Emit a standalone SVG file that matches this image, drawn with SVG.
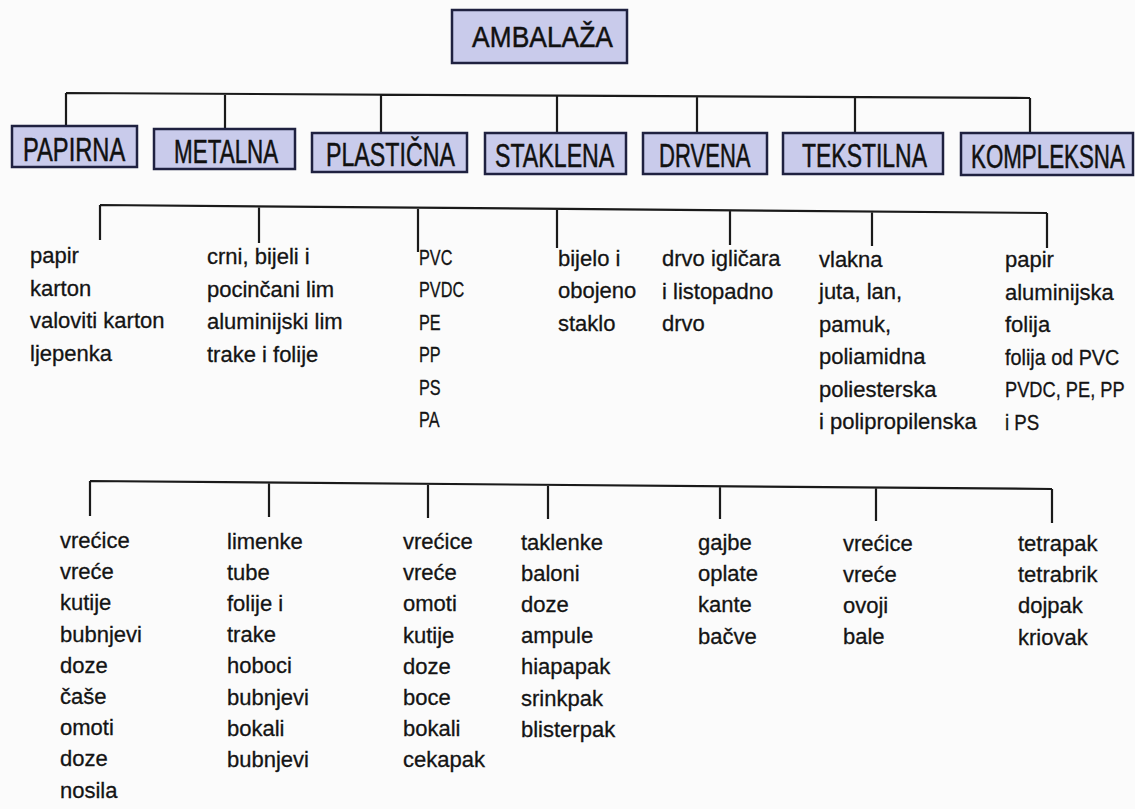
<svg xmlns="http://www.w3.org/2000/svg" width="1135" height="809" viewBox="0 0 1135 809">
<style>
.bg{fill:#fbfbfb}
.box{fill:#c9cbeb;stroke:#1f2140;stroke-width:2.5}
.hd{font-family:"Liberation Sans",Arial,sans-serif;font-size:33px;fill:#111;stroke:#111;stroke-width:0.5}
.ls{font-family:"Liberation Sans",Arial,sans-serif;font-size:22px;fill:#141414;stroke:#141414;stroke-width:0.3}
.cn{fill:none;stroke:#1a1a1a;stroke-width:2.2}
</style>
<rect class="bg" x="0" y="0" width="1135" height="809"/>
<g id="connectors">
<path class="cn" d="M66,93 L1030,98 M66,93 V126 M225,93.8 V129 M381,94.6 V133 M557,95.5 V133 M697,96.3 V133 M855,97.1 V133 M1030,98 V133"/>
<path class="cn" d="M100,205 L1047,213 M100,205 V240 M259,206.3 V243 M418,207.7 V252 M557,208.9 V248 M730,210.3 V245 M872,211.5 V246 M1047,213 V248"/>
<path class="cn" d="M90,481 L1052,489 M90,481 V516 M269,482.5 V517 M428,483.8 V518 M548,484.8 V519 M720,486.2 V519 M876,487.5 V521 M1052,489 V523"/>
</g>
<g id="ambalaza">
<rect class="box" x="452" y="10" width="175" height="53"/>
<text class="hd" style="font-size:30px" transform="translate(472,47) scale(0.881,1)">AMBALAŽA</text>
</g>
<g id="papirna">
<rect class="box" x="12" y="126" width="125" height="41"/>
<text class="hd" transform="translate(23,161) scale(0.718,1)">PAPIRNA</text>
</g>
<g id="metalna">
<rect class="box" x="154" y="129" width="141" height="40"/>
<text class="hd" transform="translate(174,163) scale(0.68,1)">METALNA</text>
</g>
<g id="plasticna">
<rect class="box" x="312" y="133" width="155" height="39"/>
<text class="hd" transform="translate(326,166) scale(0.703,1)">PLASTIČNA</text>
</g>
<g id="staklena">
<rect class="box" x="485" y="133" width="141" height="41"/>
<text class="hd" transform="translate(495,167) scale(0.702,1)">STAKLENA</text>
</g>
<g id="drvena">
<rect class="box" x="643" y="133" width="124" height="41"/>
<text class="hd" transform="translate(659,167) scale(0.669,1)">DRVENA</text>
</g>
<g id="tekstilna">
<rect class="box" x="783" y="133" width="160" height="41"/>
<text class="hd" transform="translate(802,167) scale(0.696,1)">TEKSTILNA</text>
</g>
<g id="kompleksna">
<rect class="box" x="961" y="133" width="172" height="42"/>
<text class="hd" transform="translate(971,168) scale(0.677,1)">KOMPLEKSNA</text>
</g>
<g id="mat-papirna">
<text class="ls"><tspan x="30" y="263">papir</tspan><tspan x="30" y="295.5">karton</tspan><tspan x="30" y="328">valoviti karton</tspan><tspan x="30" y="360.5">ljepenka</tspan></text>
</g>
<g id="mat-metalna">
<text class="ls"><tspan x="207" y="264">crni, bijeli i</tspan><tspan x="207" y="296.5">pocinčani lim</tspan><tspan x="207" y="329">aluminijski lim</tspan><tspan x="207" y="361.5">trake i folije</tspan></text>
</g>
<g id="mat-plasticna">
<text class="ls" transform="translate(419,0) scale(0.74,1)"><tspan x="0" y="265">PVC</tspan><tspan x="0" y="297.5">PVDC</tspan><tspan x="0" y="330">PE</tspan><tspan x="0" y="362.5">PP</tspan><tspan x="0" y="395">PS</tspan><tspan x="0" y="427.5">PA</tspan></text>
</g>
<g id="mat-staklena">
<text class="ls"><tspan x="558" y="265.5">bijelo i</tspan><tspan x="558" y="298">obojeno</tspan><tspan x="558" y="330.5">staklo</tspan></text>
</g>
<g id="mat-drvena">
<text class="ls"><tspan x="662" y="266">drvo igličara</tspan><tspan x="662" y="298.5">i listopadno</tspan><tspan x="662" y="331">drvo</tspan></text>
</g>
<g id="mat-tekstilna">
<text class="ls"><tspan x="819" y="266.5">vlakna</tspan><tspan x="819" y="299">juta, lan,</tspan><tspan x="819" y="331.5">pamuk,</tspan><tspan x="819" y="364">poliamidna</tspan><tspan x="819" y="396.5">poliesterska</tspan><tspan x="819" y="429">i polipropilenska</tspan></text>
</g>
<g id="mat-kompleksna">
<text class="ls"><tspan x="1005" y="267">papir</tspan><tspan x="1005" y="299.5">aluminijska</tspan><tspan x="1005" y="332">folija</tspan></text>
<text class="ls" transform="translate(1005,364.5) scale(0.9,1)">folija od PVC</text>
<text class="ls" transform="translate(1005,397) scale(0.83,1)">PVDC, PE, PP</text>
<text class="ls" transform="translate(1005,429.5) scale(0.85,1)">i PS</text>
</g>
<g id="obl-papirna">
<text class="ls"><tspan x="60" y="548">vrećice</tspan><tspan x="60" y="579.2">vreće</tspan><tspan x="60" y="610.4">kutije</tspan><tspan x="60" y="641.6">bubnjevi</tspan><tspan x="60" y="672.8">doze</tspan><tspan x="60" y="704">čaše</tspan><tspan x="60" y="735.2">omoti</tspan><tspan x="60" y="766.4">doze</tspan><tspan x="60" y="797.6">nosila</tspan></text>
</g>
<g id="obl-metalna">
<text class="ls"><tspan x="227" y="548.5">limenke</tspan><tspan x="227" y="579.7">tube</tspan><tspan x="227" y="610.9">folije i</tspan><tspan x="227" y="642.1">trake</tspan><tspan x="227" y="673.3">hoboci</tspan><tspan x="227" y="704.5">bubnjevi</tspan><tspan x="227" y="735.7">bokali</tspan><tspan x="227" y="766.9">bubnjevi</tspan></text>
</g>
<g id="obl-plasticna">
<text class="ls"><tspan x="403" y="549">vrećice</tspan><tspan x="403" y="580.2">vreće</tspan><tspan x="403" y="611.4">omoti</tspan><tspan x="403" y="642.6">kutije</tspan><tspan x="403" y="673.8">doze</tspan><tspan x="403" y="705">boce</tspan><tspan x="403" y="736.2">bokali</tspan><tspan x="403" y="767.4">cekapak</tspan></text>
</g>
<g id="obl-staklena">
<text class="ls"><tspan x="521" y="549.5">taklenke</tspan><tspan x="521" y="580.7">baloni</tspan><tspan x="521" y="611.9">doze</tspan><tspan x="521" y="643.1">ampule</tspan><tspan x="521" y="674.3">hiapapak</tspan><tspan x="521" y="705.5">srinkpak</tspan><tspan x="521" y="736.7">blisterpak</tspan></text>
</g>
<g id="obl-drvena">
<text class="ls"><tspan x="698" y="550">gajbe</tspan><tspan x="698" y="581.2">oplate</tspan><tspan x="698" y="612.4">kante</tspan><tspan x="698" y="643.6">bačve</tspan></text>
</g>
<g id="obl-tekstilna">
<text class="ls"><tspan x="843" y="550.5">vrećice</tspan><tspan x="843" y="581.7">vreće</tspan><tspan x="843" y="612.9">ovoji</tspan><tspan x="843" y="644.1">bale</tspan></text>
</g>
<g id="obl-kompleksna">
<text class="ls"><tspan x="1018" y="551">tetrapak</tspan><tspan x="1018" y="582.2">tetrabrik</tspan><tspan x="1018" y="613.4">dojpak</tspan><tspan x="1018" y="644.6">kriovak</tspan></text>
</g>
</svg>
